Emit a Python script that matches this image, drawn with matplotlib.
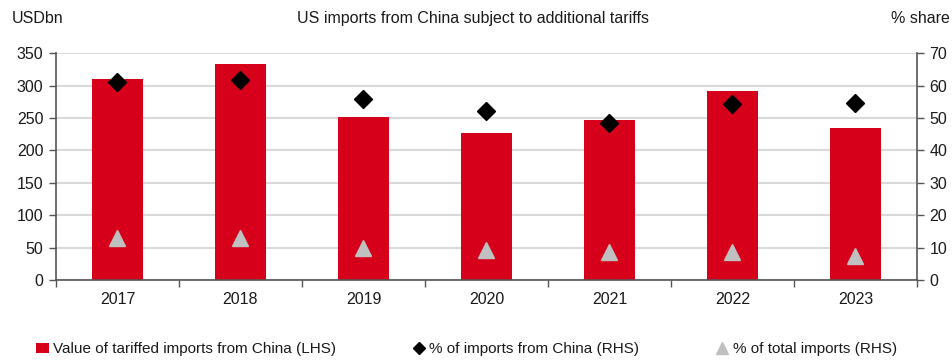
import matplotlib
matplotlib.use("Agg")
import matplotlib.pyplot as plt
from matplotlib.lines import Line2D
from matplotlib.patches import Patch
import numpy as np

plt.rcParams['font.family'] = ['Liberation Sans Narrow', 'Liberation Sans', 'DejaVu Sans']

years = ["2017", "2018", "2019", "2020", "2021", "2022", "2023"]
tariffed_value = [310, 333, 252, 227, 247, 292, 234]
pct_china = [61.0, 61.8, 55.9, 52.1, 48.6, 54.4, 54.8]
pct_total = [12.9, 12.9, 9.8, 9.3, 8.7, 8.7, 7.5]

title = "US imports from China subject to additional tariffs"
left_label = "USDbn"
right_label = "% share"
legend_labels = ["Value of tariffed imports from China (LHS)",
                 "% of imports from China (RHS)",
                 "% of total imports (RHS)"]

bar_color = "#d7001a"
grid_color = "#d9d9d9"
spine_color = "#555555"
text_color = "#1a1a1a"

fig = plt.figure(figsize=(9.52, 3.64), dpi=100)
ax = fig.add_axes([0.0588, 0.2308, 0.9044, 0.6228])
ax2 = ax.twinx()

x = np.arange(len(years))
ax.bar(x, tariffed_value, width=0.41, color=bar_color, zorder=2)
ax2.plot(x, pct_china, linestyle='none', marker='D', markersize=9,
         color='black', zorder=3)
ax2.plot(x, pct_total, linestyle='none', marker='^', markersize=11,
         color='#c0c0c0', zorder=3)

ax.set_xlim(-0.5, len(years) - 0.5)
ax.set_ylim(0, 350)
ax2.set_ylim(0, 70)
ax.set_yticks(np.arange(0, 351, 50))
ax2.set_yticks(np.arange(0, 71, 10))

ax.yaxis.grid(True, color=grid_color, linewidth=1.5, zorder=0)
ax.set_axisbelow(True)

# category ticks at boundaries, labels at centers
ax.set_xticks(np.arange(-0.5, len(years), 1.0))
ax.set_xticklabels([])
ax.set_xticks(x, minor=True)
ax.set_xticklabels(years, minor=True)
ax.tick_params(axis='x', which='minor', length=0, pad=9,
               labelsize=11.5, labelcolor=text_color)
ax.tick_params(axis='x', which='major', length=5, width=1, color=spine_color,
               direction='out')

ax.tick_params(axis='y', length=5, width=1, color=spine_color,
               labelsize=11.5, labelcolor=text_color, pad=4)
ax2.tick_params(axis='y', length=5, width=1, color=spine_color,
                labelsize=11.5, labelcolor=text_color, pad=4)

for a in (ax, ax2):
    a.spines['top'].set_visible(False)
    for s in ('left', 'right', 'bottom'):
        a.spines[s].set_color(spine_color)
        a.spines[s].set_linewidth(1.2)
ax2.spines['left'].set_visible(False)
ax2.spines['bottom'].set_visible(False)
ax.spines['right'].set_visible(False)

fig.text(0.012, 0.95, left_label, fontsize=11.5, color=text_color,
         ha='left', va='center')
fig.text(0.497, 0.95, title, fontsize=11.5, color=text_color,
         ha='center', va='center')
fig.text(0.998, 0.95, right_label, fontsize=11.5, color=text_color,
         ha='right', va='center')

handles = [Patch(facecolor=bar_color, edgecolor='none'),
           Line2D([], [], linestyle='none', marker='D', markersize=6.5, color='black'),
           Line2D([], [], linestyle='none', marker='^', markersize=8, color='#c0c0c0')]
fig.legend(handles, legend_labels, loc='center', bbox_to_anchor=(0.49, 0.04),
           ncol=3, frameon=False, fontsize=11, handlelength=0.8,
           handletextpad=0.3, columnspacing=5.0, labelcolor=text_color)

fig.savefig("out.png", dpi=100)
